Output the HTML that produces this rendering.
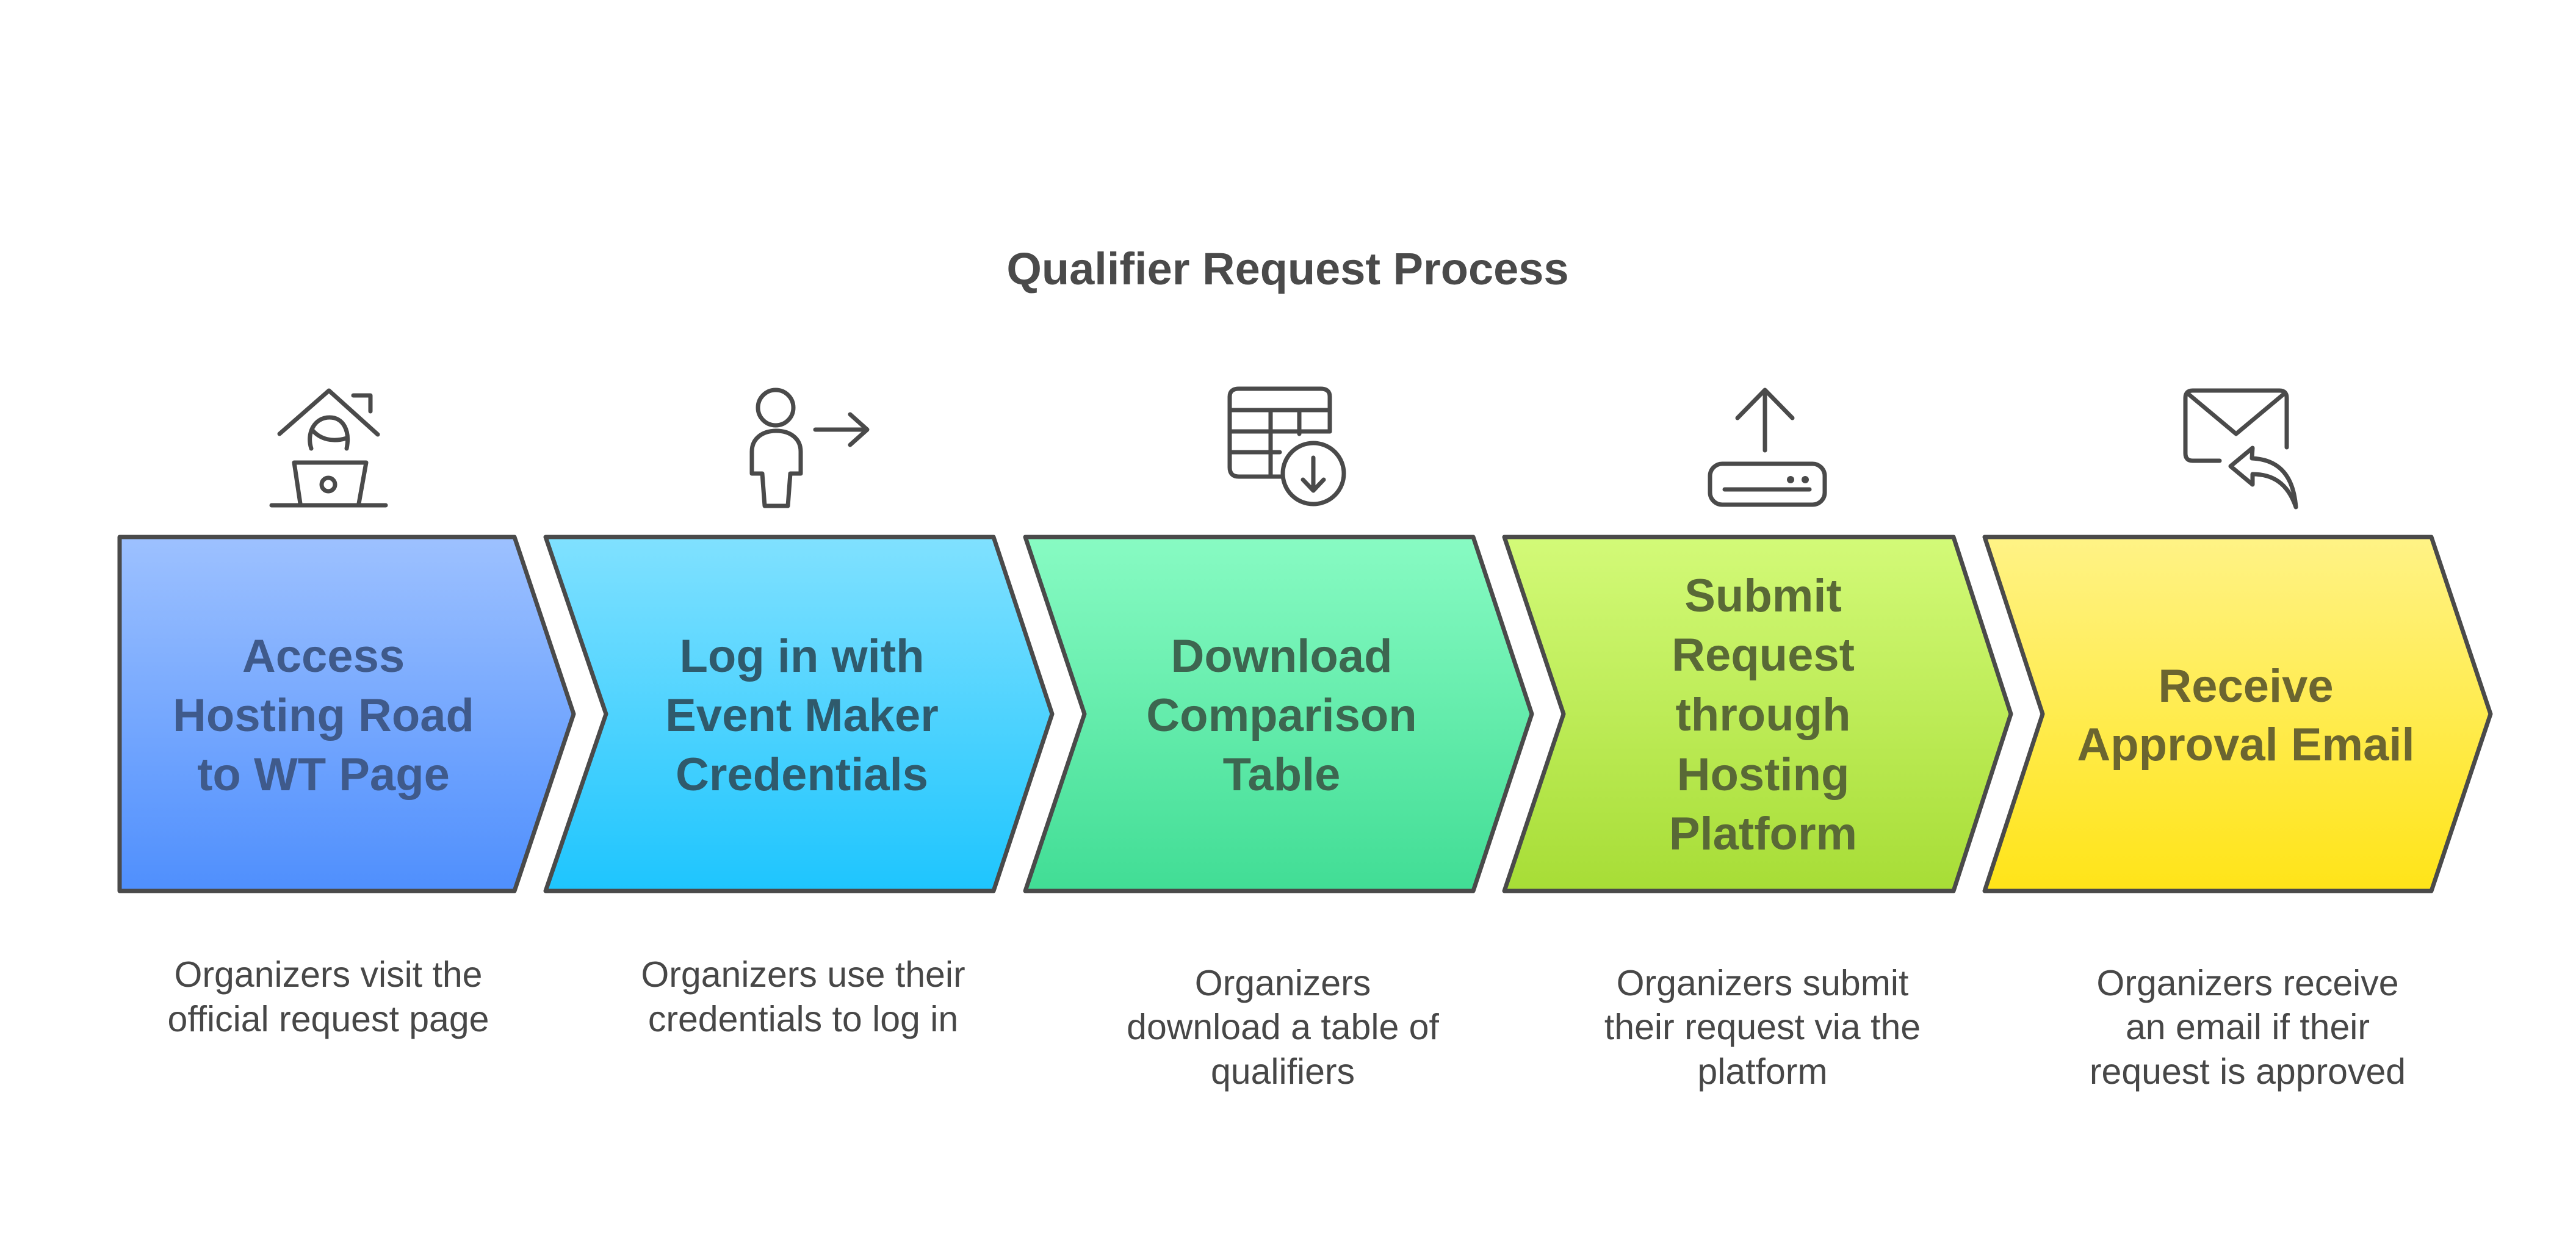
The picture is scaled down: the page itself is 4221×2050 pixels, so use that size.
<!DOCTYPE html>
<html><head><meta charset="utf-8"><style>html,body{margin:0;padding:0;background:#fff}svg{display:block}</style></head>
<body>
<svg width="4221" height="2050" viewBox="0 0 4221 2050" xmlns="http://www.w3.org/2000/svg">
<defs>
<linearGradient id="g1" x1="0" y1="0" x2="0" y2="1"><stop offset="0" stop-color="#9dc1ff"/><stop offset="1" stop-color="#4f8ffd"/></linearGradient>
<linearGradient id="g2" x1="0" y1="0" x2="0" y2="1"><stop offset="0" stop-color="#80e1ff"/><stop offset="1" stop-color="#1ec5fe"/></linearGradient>
<linearGradient id="g3" x1="0" y1="0" x2="0" y2="1"><stop offset="0" stop-color="#88fbc3"/><stop offset="1" stop-color="#41dd95"/></linearGradient>
<linearGradient id="g4" x1="0" y1="0" x2="0" y2="1"><stop offset="0" stop-color="#d3fa78"/><stop offset="1" stop-color="#a7dd36"/></linearGradient>
<linearGradient id="g5" x1="0" y1="0" x2="0" y2="1"><stop offset="0" stop-color="#fff386"/><stop offset="1" stop-color="#ffe418"/></linearGradient>
</defs>
<text x="2110" y="466" text-anchor="middle" font-family="Liberation Sans, sans-serif" font-weight="bold" font-size="74" fill="#4a4a4a">Qualifier Request Process</text>

<g stroke="#4a4a4a" stroke-width="7" stroke-linejoin="round">
<polygon points="196,880 843,880 940,1170 843,1460 196,1460" fill="url(#g1)"/>
<polygon points="894,880 1628,880 1724,1170 1628,1460 894,1460 993,1170" fill="url(#g2)"/>
<polygon points="1680,880 2414,880 2510,1170 2414,1460 1680,1460 1777,1170" fill="url(#g3)"/>
<polygon points="2465,880 3201,880 3295,1170 3201,1460 2465,1460 2562,1170" fill="url(#g4)"/>
<polygon points="3252,880 3984,880 4081,1170 3984,1460 3252,1460 3347,1170" fill="url(#g5)"/>
</g>

<g font-family="Liberation Sans, sans-serif" font-weight="bold" font-size="76" text-anchor="middle">
<g fill="#3f5a8b"><text x="530" y="1101">Access</text><text x="530" y="1198">Hosting Road</text><text x="530" y="1295">to WT Page</text></g>
<g fill="#2f5a6c"><text x="1314" y="1101">Log in with</text><text x="1314" y="1198">Event Maker</text><text x="1314" y="1295">Credentials</text></g>
<g fill="#3d6650"><text x="2100" y="1101">Download</text><text x="2100" y="1198">Comparison</text><text x="2100" y="1295">Table</text></g>
<g fill="#596936"><text x="2889" y="1002">Submit</text><text x="2889" y="1099">Request</text><text x="2889" y="1197">through</text><text x="2889" y="1295">Hosting</text><text x="2889" y="1392">Platform</text></g>
<g fill="#6b6530"><text x="3680" y="1150">Receive</text><text x="3680" y="1246">Approval Email</text></g>
</g>

<g font-family="Liberation Sans, sans-serif" font-size="59" text-anchor="middle" fill="#474747">
<text x="538" y="1617">Organizers visit the</text><text x="538" y="1690">official request page</text>
<text x="1316" y="1617">Organizers use their</text><text x="1316" y="1690">credentials to log in</text>
<text x="2102" y="1631">Organizers</text><text x="2102" y="1703">download a table of</text><text x="2102" y="1776">qualifiers</text>
<text x="2888" y="1631">Organizers submit</text><text x="2888" y="1703">their request via the</text><text x="2888" y="1776">platform</text>
<text x="3683" y="1631">Organizers receive</text><text x="3683" y="1703">an email if their</text><text x="3683" y="1776">request is approved</text>
</g>

<g fill="none" stroke="#4a4a4a" stroke-width="7" stroke-linecap="round" stroke-linejoin="round">
<polyline points="458,711 539,640 619,712"/>
<polyline points="579,648 607,648 607,674"/>
<path d="M510,735 C502,710 515,684 540,684 C562,684 574,705 568,735"/>
<path d="M512,705 C525,720 545,725 568,718"/>
<path d="M482,758 L600,758 L588,825 M482,758 L492,825"/>
<line x1="445" y1="828" x2="632" y2="828"/>
<circle cx="538" cy="794" r="11"/>
<circle cx="1271" cy="668" r="29"/>
<path d="M1232,776 L1232,740 C1232,718 1250,706 1272,706 C1294,706 1312,718 1312,740 L1312,776 L1295,776 L1291,829 L1253,829 L1249,776 Z"/>
<line x1="1336" y1="704" x2="1419" y2="704"/>
<polyline points="1393,679 1421,704 1393,729"/>
<path d="M2101,781 L2030,781 Q2015,781 2015,766 L2015,650 Q2015,637 2030,637 L2164,637 Q2179,637 2179,650 L2179,707"/>
<line x1="2015" y1="672" x2="2179" y2="672"/>
<line x1="2015" y1="707" x2="2179" y2="707"/>
<line x1="2015" y1="741" x2="2097" y2="741"/>
<line x1="2082" y1="672" x2="2082" y2="781"/>
<line x1="2129" y1="672" x2="2129" y2="711"/>
<circle cx="2152" cy="776" r="50"/>
<line x1="2152" y1="750" x2="2152" y2="802"/>
<polyline points="2135,786 2152,804 2169,786"/>
<line x1="2892" y1="640" x2="2892" y2="738"/>
<polyline points="2847,685 2892,639 2937,685"/>
<rect x="2802" y="760" width="188" height="67" rx="20"/>
<line x1="2826" y1="802" x2="2965" y2="802"/>
<path d="M3637,755 L3593,755 Q3581,755 3581,743 L3581,652 Q3581,640 3593,640 L3735,640 Q3747,640 3747,652 L3747,733"/>
<polyline points="3585,645 3664,711 3743,645"/>
<path d="M3691,734 L3655,764 L3691,794 L3691,777 C3722,777 3748,790 3762,831 C3758,780 3735,753 3690,751 Z"/>
</g>
<g fill="#4a4a4a"><circle cx="2934" cy="786" r="6"/><circle cx="2958" cy="786" r="6"/></g>
</svg>
</body></html>
